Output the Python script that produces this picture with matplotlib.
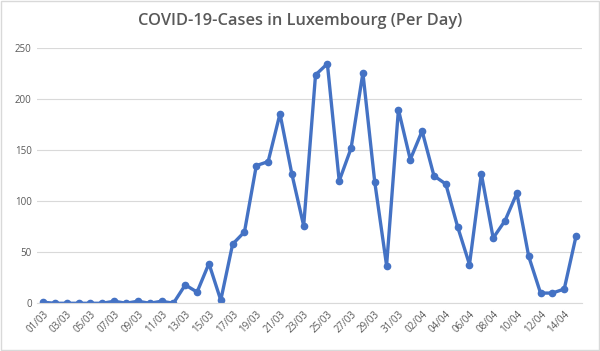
import numpy as np
import pandas as pd
import matplotlib.pyplot as plt

# daily new cases, 01/03 - 15/04
dates = pd.date_range("2020-03-01", "2020-04-15").strftime("%d/%m").tolist()
cases = [1, 0, 0, 0, 0, 0, 2, 0, 2, 0, 2, 0,
         18, 11, 39, 3, 58, 70, 135, 139, 186, 127, 76, 224, 235, 120, 152, 226, 119, 37, 190,
         141, 169, 125, 117, 75, 38, 127, 64, 81, 108, 46, 10, 10, 14, 66]

grey = "#595959"
plt.rcParams['font.family'] = ['Open Sans', 'DejaVu Sans']

fig = plt.figure(figsize=(6, 3.51), dpi=100)
ax = fig.add_axes([0.062, 0.136, 0.908, 0.726])

x = np.arange(len(dates))
ax.plot(x, cases, color="#4472C4", lw=2.4, marker="o", markersize=4.5)

ax.set_xlim(-0.5, len(dates) - 0.5)
ax.set_ylim(0, 250)
ax.set_yticks(range(0, 251, 50))
ax.set_xticks(x[::2])
ax.set_xticklabels(dates[::2], rotation=45, ha="right", rotation_mode="anchor")
ax.tick_params(axis="both", length=0, labelsize=7, colors=grey, pad=4)
ax.grid(axis="y", color="#D9D9D9", lw=0.8)
ax.set_axisbelow(True)
for s in ["top", "right", "left"]:
    ax.spines[s].set_visible(False)
ax.spines["bottom"].set_color("#D9D9D9")

fig.text(0.5, 0.94, "COVID-19-Cases in Luxembourg (Per Day)", ha="center", va="center",
         fontsize=11.8, fontweight="semibold", color=grey)

# light frame round the chart
fig.patches.append(plt.Rectangle((0.002, 0.003), 0.996, 0.994, transform=fig.transFigure,
                                 fill=False, ec="#D9D9D9", lw=1))

fig.savefig("out.png", dpi=100)
